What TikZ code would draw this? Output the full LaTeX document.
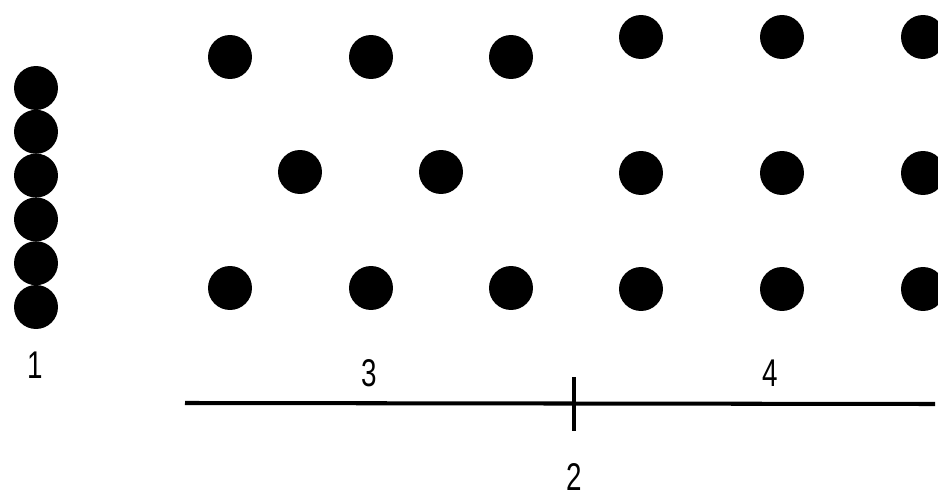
\documentclass[tikz,border=0pt]{standalone}
\usepackage{fontspec}
\setmainfont{Liberation Sans}
\newcommand{\narrowdigit}[1]{\scalebox{0.72}[1]{#1}}
\begin{document}
\begin{tikzpicture}[x=0.02cm, y=-0.02cm,
    dot/.style={circle, fill, inner sep=0pt, minimum size=0.88cm},
    lbl/.style={font=\fontsize{22}{26}\selectfont, inner sep=0pt}]
  \useasboundingbox (0,0) rectangle (938,497);
  % chain of touching dots
  \foreach \i in {0,...,5}
    \node[dot] (c\i) at (36, 88+43.8*\i) {};
  \node[lbl] (n1) at (35,365) {\narrowdigit{1}};
  % left block, staggered
  \foreach \x [count=\k] in {230,371,511} {
    \node[dot] (a\k) at (\x,57) {};
    \node[dot] (b\k) at (\x,288) {};
  }
  \node[dot] (m1) at (300,172) {};
  \node[dot] (m2) at (441,172) {};
  % right block, square
  \foreach \x [count=\k] in {641,782,923} {
    \node[dot] (p\k) at (\x,37) {};
    \node[dot] (q\k) at (\x,173) {};
    \node[dot] (r\k) at (\x,289) {};
  }
  % axis with tick
  \coordinate (L) at (185,403);
  \coordinate (R) at (935,404);
  \coordinate (T) at (574,377);
  \coordinate (B) at (574,431);
  \draw[line width=2.3pt] (L) -- (R);
  \draw[line width=2pt] (T) -- (B);
  \node[lbl] (n3) at (369,373) {\narrowdigit{3}};
  \node[lbl] (n4) at (770,373) {\narrowdigit{4}};
  \node[lbl] (n2) at (574,477) {\narrowdigit{2}};
\end{tikzpicture}
\end{document}
